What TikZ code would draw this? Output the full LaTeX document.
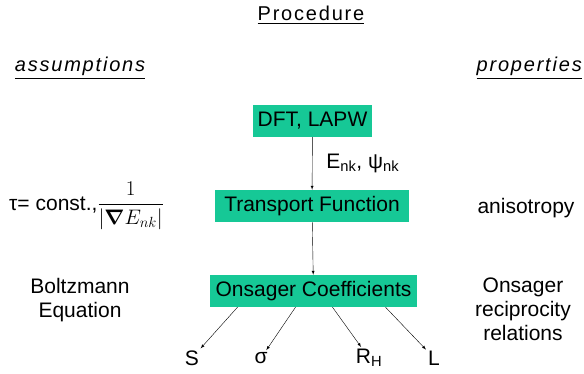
\documentclass[tikz,border=0pt]{standalone}
\usepackage{fix-cm}
\usepackage{amsmath}
\usepackage{bm}
\usepackage{fontspec}
\setmainfont{Liberation Sans}
\newfontfamily\spaced[LetterSpace=9]{Liberation Sans}
\usepackage{tikz}
\usetikzlibrary{arrows}
\definecolor{boxgreen}{RGB}{22,200,150}

\begin{document}
\begin{tikzpicture}[x=1pt,y=-1pt,>=latex]
            \tikzstyle{every node}=[font=\fontsize{21}{24}\selectfont, inner sep=2pt];
            \tikzstyle{procbox}=[fill=boxgreen, minimum height=32pt, inner sep=0pt];
            \tikzstyle{heading}=[font=\fontsize{20}{24}\selectfont\spaced];
            \useasboundingbox (0,0) rectangle (584,374);
            % headings
            \node[heading] (head) at (311,15) {\underline{Procedure}};
            \node[heading] (assum) at (80,68) {\itshape\underline{assumptions}};
            \node[heading, anchor=east, inner sep=0pt] (prop) at (582,68) {\itshape\underline{properties}};
            % procedure chain
            \node[procbox, minimum width=119pt] (dft) at (312.5,121) {DFT, LAPW};
            \node[procbox, minimum width=194pt] (tf) at (312,206) {Transport Function};
            \node[procbox, minimum width=207pt] (oc) at (313.5,291) {Onsager Coefficients};
            \draw[->] (dft) -- node[right=12pt] (wave) {E\textsubscript{nk}, ψ\textsubscript{nk}} (tf);
            \draw[->] (tf) -- (oc);
            % left and right columns
            \node[anchor=west] (tau) at (7,206) {τ= const.,$\displaystyle\frac{1}{\left|\bm{\nabla} E_{nk}\right|}$};
            \node (aniso) at (526,208) {anisotropy};
            \node[align=center] (boltz) at (80,300) {Boltzmann\\Equation};
            \node[align=center] (rel) at (523,309) {Onsager\\reciprocity\\relations};
            % coefficients
            \node (S) at (192,358) {S};
            \node (sig) at (261,358) {σ};
            \node (RH) at (369,358) {R\textsubscript{H}};
            \node (L) at (434,358) {L};
            \draw[->] ([xshift=-76pt]oc.south) -- (S);
            \draw[->] ([xshift=-18pt]oc.south) -- (sig);
            \draw[->] ([xshift=19pt]oc.south) -- (RH);
            \draw[->] ([xshift=72pt]oc.south) -- (L);
\end{tikzpicture}
\end{document}
